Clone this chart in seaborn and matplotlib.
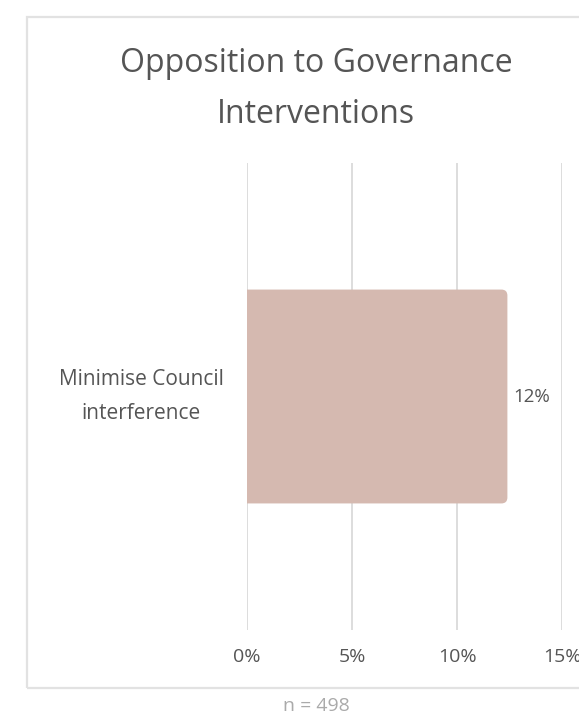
import textwrap
import matplotlib
matplotlib.use("Agg")
import matplotlib.pyplot as plt
from matplotlib.patches import FancyBboxPatch, Rectangle
from matplotlib.transforms import IdentityTransform
import pandas as pd
import seaborn as sns

categories = ["Minimise Council interference"]
values = [12.4]
x_ticks = [0, 5, 10, 15]
title = "Opposition to Governance\nInterventions"
sample_note = "n = 498"

BAR_COLOR = "#d5b9b0"
TEXT_COLOR = "#555555"
GRID_COLOR = "#dddddd"

sns.set_theme(style="white")
plt.rcParams["font.family"] = ["Open Sans", "DejaVu Sans"]

W, H = 579, 718
fig = plt.figure(figsize=(W / 100, H / 100), dpi=100)

# outer card frame
fig.patches.append(Rectangle((27 / W, 1 - 688 / H), 600 / W, (688 - 17) / H,
                             transform=fig.transFigure, facecolor="none",
                             edgecolor="#e2e2e2", linewidth=1.6, zorder=-1))

ax = fig.add_axes([247 / W, 1 - 630 / H, (562 - 247) / W, (630 - 163) / H])
ax.set_facecolor("none")

df = pd.DataFrame({"category": [textwrap.fill(c, 16) for c in categories],
                   "value": values})
sns.barplot(data=df, x="value", y="category", orient="h", color=BAR_COLOR,
            width=0.458, saturation=1, ax=ax, zorder=2)

ax.set_xlim(0, 15)
ax.set_ylim(0.5, -0.5)
ax.set_xticks(x_ticks)
ax.set_xticklabels([f"{t}%" for t in x_ticks])
ax.xaxis.grid(True, color=GRID_COLOR, linewidth=1.4)
ax.set_axisbelow(True)
for s in ax.spines.values():
    s.set_visible(False)
ax.set_xlabel("")
ax.set_ylabel("")
ax.tick_params(axis="x", length=0, pad=13, labelsize=14, labelcolor=TEXT_COLOR)
ax.tick_params(axis="y", length=0, pad=17, labelsize=15, labelcolor=TEXT_COLOR)
for lbl in ax.get_yticklabels():
    lbl.set_multialignment("center")
    lbl.set_linespacing(1.8)
    lbl.set_verticalalignment("center")

# give the bars rounded ends on the value side (radius in pixels)
fig.canvas.draw()
for bar, v in zip(list(ax.patches), values):
    bb = bar.get_window_extent()
    r = 6
    rounded = FancyBboxPatch((bb.x0 - 2 * r, bb.y0), bb.width + 2 * r, bb.height,
                             boxstyle=f"round,pad=0,rounding_size={r}",
                             transform=IdentityTransform(),
                             facecolor=BAR_COLOR, edgecolor="none", zorder=2)
    bar.remove()
    ax.add_artist(rounded)
    rounded.set_clip_path(ax.patch)
    ax.text(v + 0.3, bar.get_y() + bar.get_height() / 2, f"{v:.0f}%",
            va="center", ha="left", fontsize=13.5, color=TEXT_COLOR)

fig.text(316 / W, 1 - 89 / H, title, ha="center", va="center",
         fontsize=23, color=TEXT_COLOR, linespacing=1.7)
fig.text(316 / W, 1 - 706 / H, sample_note, ha="center", va="center",
         fontsize=14, color="#aaaaaa")

fig.savefig("out.png", dpi=100)
